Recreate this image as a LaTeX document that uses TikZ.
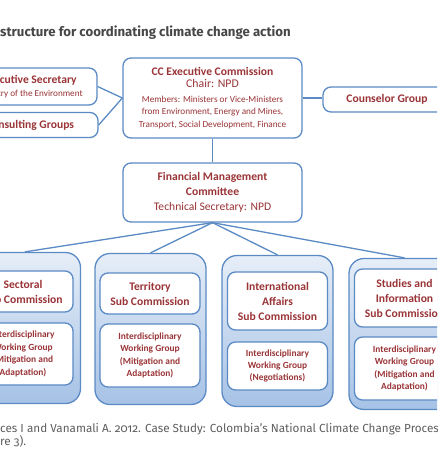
\documentclass[tikz,border=0pt]{standalone}
\usepackage{fontspec}
\setmainfont{Carlito}
\newfontfamily\headfont{Fira Sans}
\newfontfamily\capfont[Numbers=OldStyle]{Fira Sans}

\definecolor{edgeblue}{HTML}{5B8AC4}
\definecolor{txtred}{HTML}{9A3437}
\definecolor{subtop}{HTML}{E6EEF8}
\definecolor{subbot}{HTML}{A6C2E6}
\definecolor{headgray}{HTML}{474747}
\definecolor{capgray}{HTML}{5E5E5E}

\begin{document}
\begin{tikzpicture}[
  x=1pt, y=-1pt,
  font=\fontsize{11.6}{13.5}\selectfont,
  box/.style={draw=edgeblue, line width=1.3pt, rounded corners=8pt, fill=white,
              text=txtred, align=center, inner sep=2pt},
  subbox/.style={draw=edgeblue, line width=1.3pt, rounded corners=15pt,
                 top color=subtop, bottom color=subbot,
                 minimum width=111pt, minimum height=151pt},
  namebox/.style={box, minimum width=100pt, font=\bfseries\fontsize{11.6}{15}\selectfont},
  wgbox/.style={box, minimum width=100pt, font=\bfseries\fontsize{9.4}{12.4}\selectfont},
  link/.style={draw=edgeblue, line width=1.3pt},
]
\useasboundingbox (0,0) rectangle (437,461);
\clip (0,0) rectangle (437,461);

% ---- heading and source ---------------------------------------
\node[anchor=west, inner sep=0, text=headgray,
      font=\headfont\bfseries\fontsize{13.2}{15}\selectfont] (title) at (0,32.5)
  {structure for coordinating climate change action};
\node[anchor=north west, align=left, inner sep=0, text=capgray,
      font=\capfont\fontsize{11.7}{11.5}\selectfont] (source) at (0,423)
  {ces I and Vanamali A. 2012. Case Study: Colombia’s National Climate Change Proces\\
   re 3).};

% ---- top row ----------------------------------------------------
\node[box, minimum width=134pt, minimum height=37pt] (exec) at (30,86.5)
  {{\bfseries Executive Secretary}\\[-1pt]{\fontsize{9.2}{11}\selectfont Ministry of the Environment}};
\node[box, minimum width=136pt, minimum height=25pt] (consult) at (30,125)
  {\bfseries Consulting Groups};
\node[box, minimum width=179pt, minimum height=80pt] (cc) at (212.5,98)
  {{\bfseries CC Executive Commission}\\[-1pt]
   {\fontsize{11.8}{13}\selectfont Chair: NPD}\\[1pt]
   {\fontsize{9.2}{12}\selectfont Members: Ministers or Vice-Ministers}\\[-1pt]
   {\fontsize{9.2}{12}\selectfont from Environment, Energy and Mines,}\\[-1pt]
   {\fontsize{9.2}{12}\selectfont Transport, Social Development, Finance}};
\node[box, minimum width=128pt, minimum height=25pt] (counsel) at (387,99.5)
  {\bfseries Counselor Group};

% ---- committee --------------------------------------------------
\node[box, minimum width=179pt, minimum height=59pt,
      font=\fontsize{11.6}{15}\selectfont] (fmc) at (212.5,192.5)
  {{\bfseries Financial Management}\\{\bfseries Committee}\\Technical Secretary: NPD};

% ---- sub commissions --------------------------------------------
\node[subbox] (sect) at (25,328) {};
\node[subbox] (terr) at (150.5,329) {};
\node[subbox] (intl) at (277.5,331) {};
\node[subbox] (stud) at (404.5,334) {};

\node[namebox, minimum height=41pt] (sectname) at (23,291.5) {Sectoral\\Sub Commission};
\node[namebox, minimum height=41pt] (terrname) at (150,293.5) {Territory\\Sub Commission};
\node[namebox, minimum height=58pt] (intlname) at (277.5,301) {International\\Affairs\\Sub Commission};
\node[namebox, minimum height=58pt] (studname) at (404.5,298) {Studies and\\Information\\Sub Commission};

\node[wgbox, minimum height=62pt] (sectwg) at (23,354)
  {Interdisciplinary\\Working Group\\(Mitigation and\\Adaptation)};
\node[wgbox, minimum height=63pt] (terrwg) at (150,355.5)
  {Interdisciplinary\\Working Group\\(Mitigation and\\Adaptation)};
\node[wgbox, minimum height=48pt] (intlwg) at (277.5,366)
  {Interdisciplinary\\Working Group\\(Negotiations)};
\node[wgbox, minimum height=63pt] (studwg) at (404.5,368.5)
  {Interdisciplinary\\Working Group\\(Mitigation and\\Adaptation)};

% ---- connectors -------------------------------------------------
\draw[link] (exec.east) -- (cc.west);
\draw[link] (consult.east) -- (cc.west);
\draw[link] (cc.east) -- (cc.east -| counsel.west);
\draw[link] (cc.south) -- (fmc.north);
\foreach \s in {sect,terr,intl,stud}
  \draw[link] (fmc.south) -- (\s.north);

\end{tikzpicture}
\end{document}
